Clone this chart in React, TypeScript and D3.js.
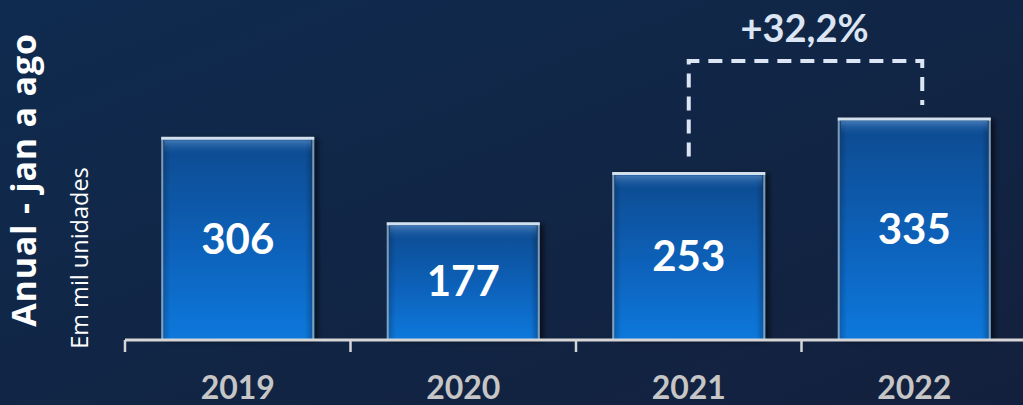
import React from "react";
import * as d3 from "d3";

const categories = ["2019", "2020", "2021", "2022"];
const values = [306, 177, 253, 335];
const valueLabels = ["306", "177", "253", "335"];
const title = "Anual - jan a ago";
const subtitle = "Em mil unidades";
const growthLabel = "+32,2%";
const growthFrom = "2021";
const growthTo = "2022";

const W = 1023;
const H = 405;

export default function App() {
  const x = d3
    .scaleBand<string>()
    .domain(categories)
    .range([125, 1027])
    .paddingInner(0.3215)
    .paddingOuter(0.3215 / 2);
  const y = d3.scaleLinear().domain([0, 400]).range([340, 75]);
  const step = x.step();
  const bw = x.bandwidth();
  const tickXs = categories.map((c) => (x(c) as number) - (step * x.paddingInner()) / 2);

  const fromX = (x(growthFrom) as number) + bw / 2;
  const toX = (x(growthTo) as number) + bw / 2 + 8;
  const fromTop = y(values[categories.indexOf(growthFrom)]);
  const toTop = y(values[categories.indexOf(growthTo)]);
  const bracketY = 61;

  const font = "Lato, 'Open Sans', sans-serif";
  const font2 = "'Open Sans', Lato, sans-serif";

  return (
    <div style={{ position: "fixed", left: 0, top: 0, width: W, height: H }}>
      <svg width={W} height={H} style={{ display: "block" }}>
        <defs>
          <linearGradient id="bg" x1="0" y1="0" x2="1" y2="1">
            <stop offset="0" stopColor="#0f2b4f" />
            <stop offset="1" stopColor="#13203d" />
          </linearGradient>
          <linearGradient id="barFill" x1="0" y1="0" x2="0" y2="1">
            <stop offset="0" stopColor="#0a4a8e" />
            <stop offset="0.5" stopColor="#0a5fb6" />
            <stop offset="1" stopColor="#0a78dc" />
          </linearGradient>
          <linearGradient id="sideShade" x1="0" y1="0" x2="1" y2="0">
            <stop offset="0" stopColor="#000" stopOpacity="0.25" />
            <stop offset="0.06" stopColor="#000" stopOpacity="0" />
            <stop offset="0.94" stopColor="#000" stopOpacity="0" />
            <stop offset="1" stopColor="#000" stopOpacity="0.3" />
          </linearGradient>
          <linearGradient id="topHi" x1="0" y1="0" x2="0" y2="1">
            <stop offset="0" stopColor="#6fa0d6" stopOpacity="0.55" />
            <stop offset="1" stopColor="#1a5ea8" stopOpacity="0" />
          </linearGradient>
          <filter id="shadow" x="-10%" y="-10%" width="125%" height="120%">
            <feDropShadow dx="4" dy="1" stdDeviation="2.5" floodColor="#000" floodOpacity="0.55" />
          </filter>
        </defs>
        <rect x={0} y={0} width={W} height={H} fill="url(#bg)" />

        {categories.map((c, i) => {
          const bx = x(c) as number;
          const by = y(values[i]);
          const bh = y(0) - by;
          return (
            <g key={c}>
              <rect x={bx} y={by} width={bw} height={bh} fill="url(#barFill)" filter="url(#shadow)" />
              <rect x={bx} y={by} width={bw} height={bh} fill="url(#sideShade)" />
              <rect x={bx + 3} y={by + 3} width={bw - 6} height={14} fill="url(#topHi)" />
              <rect
                x={bx + 1}
                y={by + 1}
                width={bw - 2}
                height={bh - 1}
                fill="none"
                stroke="#a9b8c8"
                strokeOpacity={0.75}
                strokeWidth={2}
              />
              <line x1={bx} x2={bx + bw} y1={by + 1} y2={by + 1} stroke="#d2dfec" strokeWidth={3} />
              <text
                x={bx + bw / 2}
                y={by + bh / 2 + 15}
                textAnchor="middle"
                fill="#ffffff"
                fontFamily={font}
                fontWeight={700}
                fontSize={42}
              >
                {valueLabels[i]}
              </text>
            </g>
          );
        })}

        <line x1={125} x2={1027} y1={340} y2={340} stroke="#d6d6d6" strokeWidth={3} />
        {tickXs.map((tx, i) => (
          <line key={i} x1={tx} x2={tx} y1={340} y2={352} stroke="#d6d6d6" strokeWidth={2.5} />
        ))}
        {categories.map((c) => (
          <text
            key={c}
            x={(x(c) as number) + bw / 2}
            y={399}
            textAnchor="middle"
            fill="#c6c6c6"
            fontFamily={font}
            fontWeight={700}
            fontSize={32}
          >
            {c}
          </text>
        ))}

        <path
          d={`M${fromX},${fromTop - 16} V${bracketY} H${toX} V${toTop - 13}`}
          fill="none"
          stroke="#dce5f3"
          strokeWidth={4}
          strokeDasharray="14 9"
        />
        <text
          x={(fromX + toX) / 2 - 1}
          y={42}
          textAnchor="middle"
          fill="#dce5f3"
          fontFamily={font}
          fontWeight={700}
          fontSize={38}
        >
          {growthLabel}
        </text>

        <text
          transform="translate(36,180) rotate(-90)"
          textAnchor="middle"
          fill="#ffffff"
          fontFamily={font2}
          fontWeight={700}
          fontSize={34}
          letterSpacing={0.8}
        >
          {title}
        </text>
        <text
          transform="translate(88,258) rotate(-90)"
          textAnchor="middle"
          fill="#ffffff"
          fontFamily={font2}
          fontWeight={400}
          fontSize={23.5}
        >
          {subtitle}
        </text>
      </svg>
    </div>
  );
}
